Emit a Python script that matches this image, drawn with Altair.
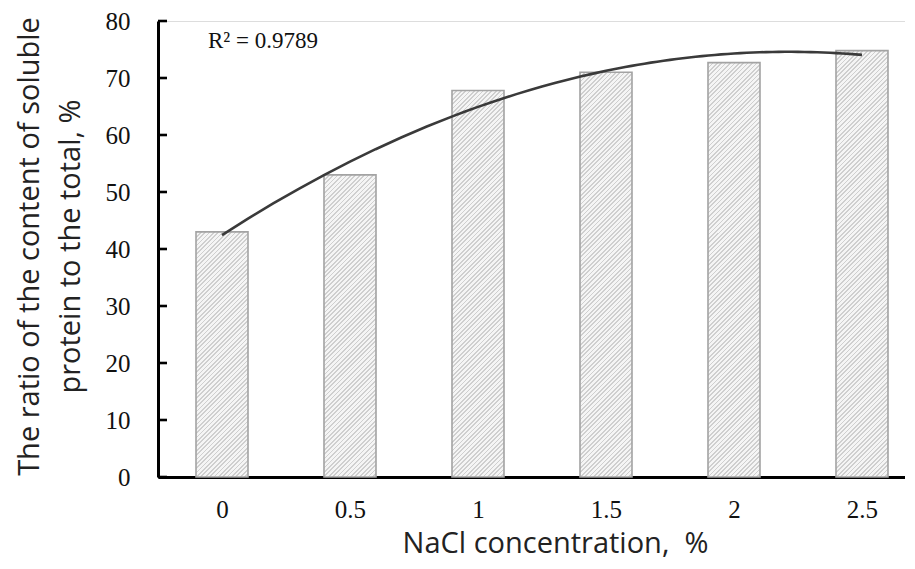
import altair as alt
import pandas as pd

# ---- data ----
nacl = [0, 0.5, 1, 1.5, 2, 2.5]
ratio = [43.0, 53.0, 67.8, 71.0, 72.7, 74.8]
y_ticks = [0, 10, 20, 30, 40, 50, 60, 70, 80]
x_ticks = [0, 0.5, 1, 1.5, 2, 2.5]
r2_text = "R² = 0.9789"
x_title = "NaCl concentration,\u00a0 %"
y_title = ["The ratio of the content of soluble", "protein to the total, %"]

df = pd.DataFrame({"conc": nacl, "ratio": ratio})
ticks_df = pd.DataFrame({"ratio": y_ticks})

W, H = 747, 456
BAR_W = 52
Y_MAX = 80

xscale = alt.Scale(domain=[-0.25, 2.668], nice=False, zero=False, padding=0)
yscale = alt.Scale(domain=[0, Y_MAX], nice=False, padding=0)

x_axis = alt.Axis(
    values=x_ticks, format="~g", grid=False, ticks=False, tickSize=0,
    labelFont="Liberation Serif", labelFontSize=25, labelColor="#111111",
    labelPadding=20, labelFlush=False,
    domainColor="black", domainWidth=3,
    title=x_title, titleFont="Open Sans", titleFontSize=29,
    titleFontWeight="normal", titleColor="#222222",
    titleX=397, titleY=52, titleAlign="center", titleBaseline="top",
)
y_axis = alt.Axis(
    values=y_ticks, grid=False, ticks=False, tickSize=0,
    labelFont="Liberation Serif", labelFontSize=25, labelColor="#111111",
    labelPadding=28, labelBaseline="middle",
    domainColor="black", domainWidth=3,
    title=y_title, titleFont="Open Sans", titleFontSize=29,
    titleFontWeight="normal", titleColor="#222222", titleLineHeight=41,
    titleX=-143, titleY=225, titleAlign="center", titleAngle=270,
    titleBaseline="top",
)

x_enc = alt.X("conc:Q", scale=xscale, axis=x_axis)
y_enc = alt.Y("ratio:Q", scale=yscale, axis=y_axis)


def hatch(value):
    """Diagonal '/' hatch as a striped linear gradient in bbox units."""
    h = value / Y_MAX * H
    w = BAR_W
    s = (w + h) * h / (h * h + w * w)
    period = 4.4
    n = max(1, int(round((w + h) / period)))
    frac = 0.4
    line_c, bg_c = "#cfcfcf", "#f5f5f5"
    stops = []
    for k in range(n):
        a = k / n
        b = (k + frac) / n
        c = (k + 1) / n
        stops += [
            alt.GradientStop(color=line_c, offset=a),
            alt.GradientStop(color=line_c, offset=b),
            alt.GradientStop(color=bg_c, offset=b),
            alt.GradientStop(color=bg_c, offset=c),
        ]
    return alt.LinearGradient(
        gradient="linear", stops=stops,
        x1=0, y1=0, x2=(w / h) * s, y2=s,
    )


base = alt.Chart(df)

bar_layers = []
for c, v in zip(nacl, ratio):
    bar_layers.append(
        base.transform_filter(alt.datum.conc == c)
        .mark_bar(size=BAR_W, fill=hatch(v), stroke="#a3a3a3", strokeWidth=1.6)
        .encode(x=x_enc, y=y_enc)
    )

trend = (
    base.transform_regression("conc", "ratio", method="poly", order=2)
    .mark_line(color="#3a3a3a", strokeWidth=2.6)
    .encode(x=x_enc, y=y_enc)
)

yticks = (
    alt.Chart(ticks_df)
    .mark_rule(color="black", strokeWidth=2.6)
    .encode(y=y_enc, x=alt.value(0), x2=alt.value(9))
)

r2 = (
    alt.Chart(pd.DataFrame({"t": [r2_text]}))
    .mark_text(font="Liberation Serif", fontSize=23, align="left",
               baseline="alphabetic", color="#111111")
    .encode(text="t:N", x=alt.value(50), y=alt.value(27))
)

chart = (
    alt.layer(*bar_layers, trend, yticks, r2)
    .properties(
        width=W, height=H,
        autosize=alt.AutoSizeParams(type="none"),
        padding={"left": 150, "top": 13, "right": 0, "bottom": 84},
    )
    .configure_view(stroke=None)
    .configure(background="white")
)

chart.save("out.html", embed_options={"renderer": "svg", "actions": False})
